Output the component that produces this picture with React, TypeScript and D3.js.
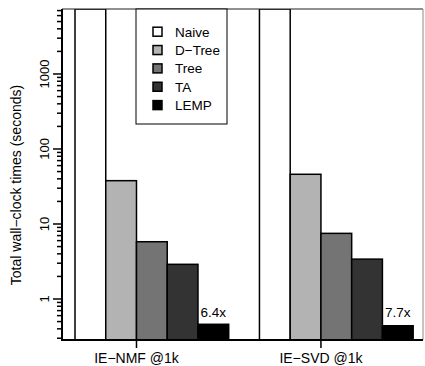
import React from "react";
import * as d3 from "d3";

const categories = ["IE−NMF @1k", "IE−SVD @1k"];
const methods = ["Naive", "D−Tree", "Tree", "TA", "LEMP"];
const naiveValues = [7350, 7350];
const dtreeValues = [37.8, 46];
const treeValues = [5.8, 7.5];
const taValues = [2.9, 3.4];
const lempValues = [0.46, 0.44];
const speedupLabels = ["6.4x", "7.7x"];
const yMajorTicks = [1, 10, 100, 1000];
const yLabels = ["1", "10", "100", "1000"];

const series = [naiveValues, dtreeValues, treeValues, taValues, lempValues];
const colors = ["#ffffff", "#b3b3b3", "#747474", "#333333", "#000000"];

const W = 425;
const H = 366;
const left = 62;
const right = 423;
const top = 9;
const bottom = 340;
const font = "'Liberation Sans', Arial, Helvetica, sans-serif";

export default function App() {
  const y = d3.scaleLog().domain([0.284, 7350]).range([bottom, top]);
  const x = d3.scaleLinear().domain([-0.423, 11.32]).range([left, right]);
  const groupSize = methods.length + 1;

  const minorTicks: number[] = [];
  for (let e = -1; e <= 3; e++) {
    for (let m = 2; m <= 9; m++) {
      const v = m * Math.pow(10, e);
      if (v >= 0.284 && v <= 7350) minorTicks.push(v);
    }
  }

  return (
    <svg
      width={W}
      height={H}
      style={{ position: "absolute", left: 0, top: 0, background: "#fff" }}
      fontFamily={font}
    >
      <defs>
        <clipPath id="plotclip">
          <rect x={left} y={top} width={right - left} height={bottom - top} />
        </clipPath>
      </defs>
      <rect x={0} y={0} width={W} height={H} fill="#fff" />
      <g clipPath="url(#plotclip)">
        {categories.map((c, g) =>
          series.map((vals, i) => {
            const idx = g * groupSize + i;
            const x0 = x(idx);
            const x1 = x(idx + 1);
            const yt = y(vals[g]);
            return (
              <rect
                key={c + i}
                x={x0}
                y={yt}
                width={x1 - x0}
                height={bottom - yt}
                fill={colors[i]}
                stroke="#000"
                strokeWidth={1.5}
              />
            );
          })
        )}
      </g>
      {/* frame */}
      <line x1={left} x2={right} y1={top} y2={top} stroke="#222" strokeWidth={1.2} />
      <line x1={right} x2={right} y1={top} y2={bottom} stroke="#888" strokeWidth={1} />
      <line x1={left} x2={left} y1={top} y2={bottom + 1} stroke="#000" strokeWidth={2} />
      <line x1={left - 1} x2={right} y1={bottom} y2={bottom} stroke="#000" strokeWidth={2} />

      {/* y ticks */}
      {yMajorTicks.map((t, i) => (
        <g key={"yt" + t}>
          <line x1={53} x2={left} y1={y(t)} y2={y(t)} stroke="#000" strokeWidth={1.5} />
          <text
            transform={`translate(48.5,${y(t)}) rotate(-90)`}
            textAnchor="middle"
            fontSize={13}
            fill="#000"
          >
            {yLabels[i]}
          </text>
        </g>
      ))}
      {minorTicks.map((t) => (
        <line key={"ym" + t} x1={57} x2={left} y1={y(t)} y2={y(t)} stroke="#000" strokeWidth={1.5} />
      ))}
      <text
        transform={`translate(21,185) rotate(-90)`}
        textAnchor="middle"
        fontSize={14}
        fill="#000"
      >
        Total wall−clock times (seconds)
      </text>

      {/* x ticks */}
      {categories.map((c, g) => {
        const tx = x(g * groupSize + 2);
        return (
          <g key={"xt" + c}>
            <line x1={tx} x2={tx} y1={bottom} y2={bottom + 8} stroke="#000" strokeWidth={1.5} />
            <text x={tx} y={363} textAnchor="middle" fontSize={14} fill="#000">
              {c}
            </text>
          </g>
        );
      })}

      {/* speedup labels */}
      {categories.map((c, g) => {
        const idx = g * groupSize + 4;
        return (
          <text
            key={"sp" + c}
            x={(x(idx) + x(idx + 1)) / 2}
            y={317}
            textAnchor="middle"
            fontSize={13.5}
            fill="#000"
          >
            {speedupLabels[g]}
          </text>
        );
      })}

      {/* legend */}
      <rect x={136} y={top} width={91} height={115} fill="#fff" stroke="#000" strokeWidth={1} />
      {methods.map((m, i) => {
        const cy = 31.7 + i * 18.35;
        return (
          <g key={"lg" + m}>
            <rect x={153} y={cy - 4.5} width={9} height={9} fill={colors[i]} stroke="#000" strokeWidth={1.5} />
            <text x={175} y={cy + 4.8} fontSize={13.5} fill="#000">
              {m}
            </text>
          </g>
        );
      })}
    </svg>
  );
}
